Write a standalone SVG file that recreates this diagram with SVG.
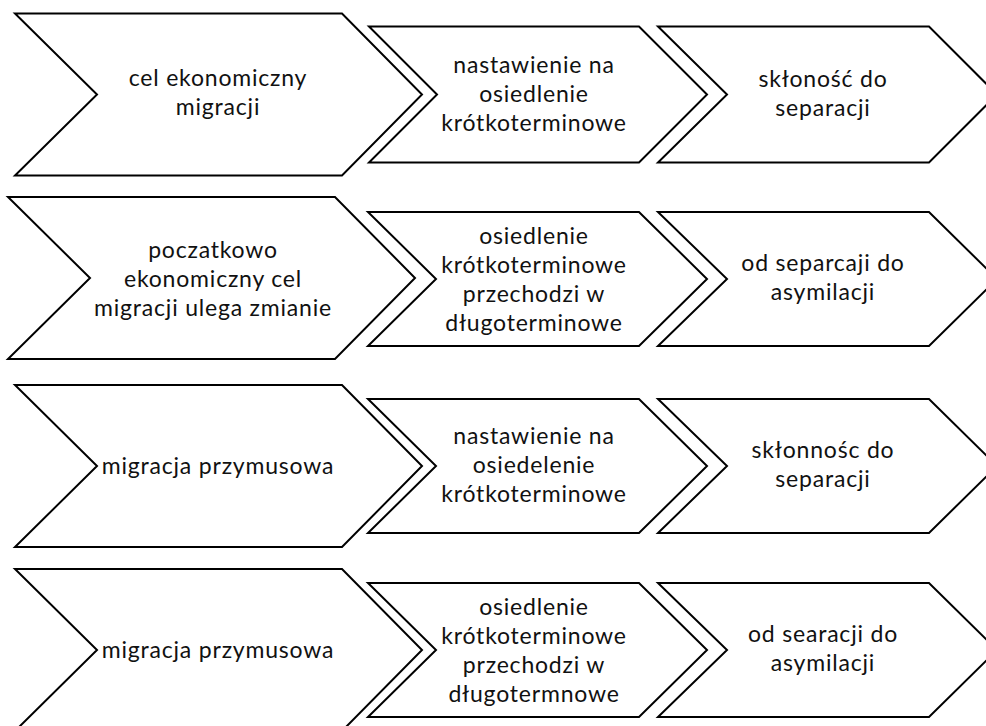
<svg xmlns="http://www.w3.org/2000/svg" width="986" height="726" viewBox="0 0 986 726">
<style>
.ch{fill:#fff;stroke:#000;stroke-width:2;stroke-linejoin:miter}
.t{font-family:Lato,"Open Sans","Liberation Sans",sans-serif;font-size:23px;fill:#111;text-anchor:middle;letter-spacing:0.8px}
</style>
<rect width="986" height="726" fill="#fff"/>
<g id="r1">
<g id="r1a"><polygon class="ch" points="15,13.5 342,13.5 422,94.5 342,175.5 15,175.5 97,94.5"/>
<text class="t" x="218" y="85.5">cel ekonomiczny</text><text class="t" x="218" y="114.5">migracji</text></g>
<g id="r1b"><polygon class="ch" points="369,26.5 639,26.5 707,94.5 639,162.5 369,162.5 437,94.5"/>
<text class="t" x="534" y="72.5">nastawienie na</text><text class="t" x="534" y="101.5">osiedlenie</text><text class="t" x="534" y="130.5">krótkoterminowe</text></g>
<g id="r1c"><polygon class="ch" points="658,26.5 929,26.5 997,94.5 929,162.5 658,162.5 727,94.5"/>
<text class="t" x="823" y="86.5">skłoność do</text><text class="t" x="823" y="115.5">separacji</text></g>
</g>
<g id="r2">
<g id="r2a"><polygon class="ch" points="8,197 335,197 415,278 335,359 8,359 90,278"/>
<text class="t" x="213" y="258">poczatkowo</text><text class="t" x="213" y="287">ekonomiczny cel</text><text class="t" x="213" y="316">migracji ulega zmianie</text></g>
<g id="r2b"><polygon class="ch" points="368,212 639,212 707,279 639,346 368,346 436,279"/>
<text class="t" x="534" y="243.5">osiedlenie</text><text class="t" x="534" y="272.5">krótkoterminowe</text><text class="t" x="534" y="301.5">przechodzi w</text><text class="t" x="534" y="330.5">długoterminowe</text></g>
<g id="r2c"><polygon class="ch" points="658,212 929,212 997,279 929,346 658,346 727,279"/>
<text class="t" x="823" y="271">od separcaji do</text><text class="t" x="823" y="300">asymilacji</text></g>
</g>
<g id="r3">
<g id="r3a"><polygon class="ch" points="15,385 342,385 422,466 342,547 15,547 97,466"/>
<text class="t" x="218" y="474">migracja przymusowa</text></g>
<g id="r3b"><polygon class="ch" points="368,399 639,399 707,466 639,533 368,533 436,466"/>
<text class="t" x="534" y="444">nastawienie na</text><text class="t" x="534" y="473">osiedelenie</text><text class="t" x="534" y="502">krótkoterminowe</text></g>
<g id="r3c"><polygon class="ch" points="658,399 929,399 997,466 929,533 658,533 727,466"/>
<text class="t" x="823" y="458">skłonnośc do</text><text class="t" x="823" y="487">separacji</text></g>
</g>
<g id="r4">
<g id="r4a"><polygon class="ch" points="15,569 342,569 422,650 342,731 15,731 97,650"/>
<text class="t" x="218" y="658">migracja przymusowa</text></g>
<g id="r4b"><polygon class="ch" points="368,583 639,583 707,650 639,717 368,717 436,650"/>
<text class="t" x="534" y="614.5">osiedlenie</text><text class="t" x="534" y="643.5">krótkoterminowe</text><text class="t" x="534" y="672.5">przechodzi w</text><text class="t" x="534" y="701.5">długotermnowe</text></g>
<g id="r4c"><polygon class="ch" points="658,583 929,583 997,650 929,717 658,717 727,650"/>
<text class="t" x="823" y="642">od searacji do</text><text class="t" x="823" y="671">asymilacji</text></g>
</g>
<g id="connectors"/>
</svg>
